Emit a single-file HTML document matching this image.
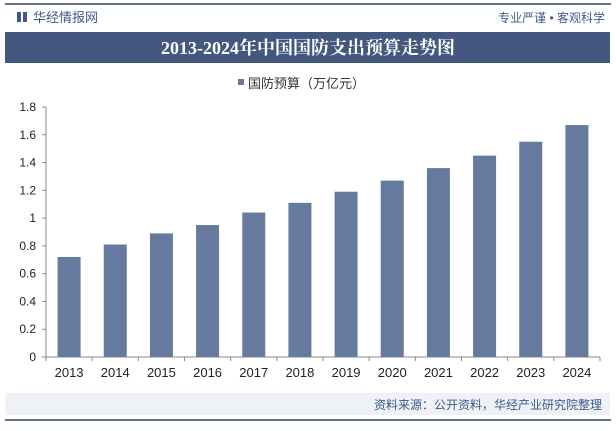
<!DOCTYPE html>
<html><head><meta charset="utf-8"><style>
body{margin:0;width:616px;height:426px;background:#fff;overflow:hidden;font-family:"Liberation Sans","Noto Sans CJK SC",sans-serif;}
</style></head><body>
<svg width="616" height="426" xmlns="http://www.w3.org/2000/svg">
<line x1="5" y1="4" x2="611" y2="4" stroke="#2f4567" stroke-width="1.5"/>
<g><rect x="17" y="12" width="4" height="10" fill="#3f5a8a"/><rect x="23" y="12" width="4" height="10" fill="#3f5a8a"/></g>
<text x="33" y="22" font-size="13" fill="#3f5a8a">华经情报网</text>
<text x="605" y="22" font-size="12" fill="#3f5a8a" text-anchor="end">专业严谨 • 客观科学</text>
<rect x="5" y="32" width="605" height="31" fill="#44577f"/>
<text x="308" y="54" font-size="18" font-weight="bold" fill="#fff" text-anchor="middle" font-family="Liberation Serif,Noto Serif CJK SC,serif">2013-2024年中国国防支出预算走势图</text>
<rect x="238" y="79" width="6" height="6" fill="#66799f"/>
<text x="248" y="88" font-size="13" fill="#333">国防预算（万亿元）</text>
<g id="plot"></g>
<rect x="5" y="393" width="605" height="22" fill="#eef1f6"/>
<text x="602" y="409" font-size="12" fill="#3f5a8a" text-anchor="end">资料来源：公开资料，华经产业研究院整理</text>
<line x1="5" y1="420" x2="611" y2="420" stroke="#2f4567" stroke-width="1.5"/>
</svg>
<script>
const categories=["2013","2014","2015","2016","2017","2018","2019","2020","2021","2022","2023","2024"];
const values=[0.72,0.81,0.89,0.95,1.04,1.11,1.19,1.27,1.36,1.45,1.55,1.67];
const yTicks=[0,0.2,0.4,0.6,0.8,1,1.2,1.4,1.6,1.8];
const NS="http://www.w3.org/2000/svg";
const g=document.getElementById('plot');
const x0=46,x1=600,y0=357,yTop=107,yMax=1.8;
const band=(x1-x0)/categories.length;
const y=v=>y0-(v/yMax)*(y0-yTop);
function mk(t,a){const e=document.createElementNS(NS,t);for(const k in a)e.setAttribute(k,a[k]);g.appendChild(e);return e;}
let ax=mk('line',{x1:x0,y1:yTop,x2:x0,y2:y0,stroke:'#888'});


let bx=mk('line',{x1:x0,y1:y0,x2:x1,y2:y0,stroke:'#888'});


yTicks.forEach(v=>{
 let t=mk('line',{x1:x0-4,y1:y(v),x2:x0,y2:y(v),stroke:'#888'});
 
 
 let l=mk('text',{x:36,y:y(v)+4,'font-size':12,fill:'#222','text-anchor':'end'});
 l.textContent=String(v);
 
 
});
for(let i=0;i<=categories.length;i++){
 let t=mk('line',{x1:x0+i*band,y1:y0,x2:x0+i*band,y2:y0+4,stroke:'#888'});
 
 
}
categories.forEach((c,i)=>{
 const cx=x0+band*(i+0.5),w=23;
 let r=mk('rect',{x:cx-w/2,y:y(values[i]),width:w,height:y0-y(values[i]),fill:'#66799f'});
 
 
 let l=mk('text',{x:cx,y:377,'font-size':13,fill:'#222','text-anchor':'middle'});
 l.textContent=c;
 
 
});
</script>
</body></html>
